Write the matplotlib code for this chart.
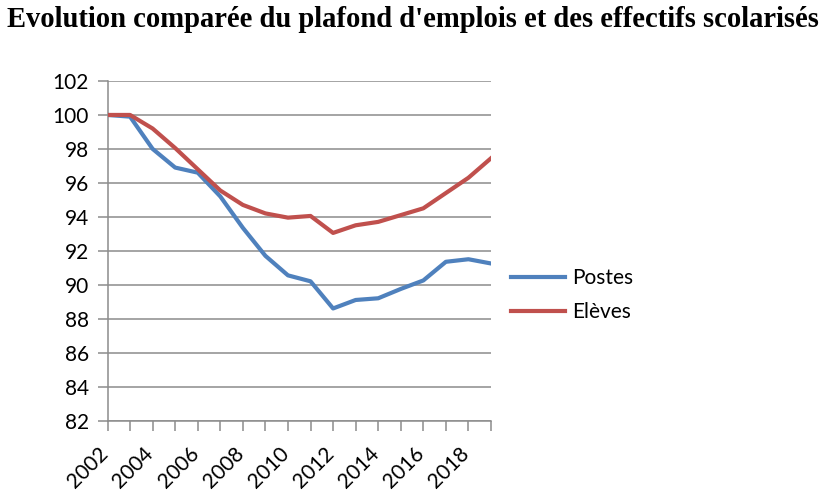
import matplotlib
matplotlib.use("Agg")
import matplotlib.pyplot as plt
import matplotlib.transforms as mtransforms

years = list(range(2002, 2020))
postes = [100.0, 99.9, 98.0, 96.9, 96.6, 95.2, 93.35, 91.7, 90.55, 90.2,
          88.6, 89.1, 89.2, 89.75, 90.25, 91.35, 91.5, 91.25]
eleves = [100.0, 100.0, 99.2, 98.05, 96.8, 95.55, 94.7, 94.2, 93.95, 94.05,
          93.05, 93.5, 93.7, 94.1, 94.5, 95.4, 96.3, 97.45]
yticks = list(range(82, 103, 2))
xlabels = [str(y) for y in range(2002, 2020, 2)]
title = "Evolution comparée du plafond d'emplois et des effectifs scolarisés"

W, H = 825, 499
fig = plt.figure(figsize=(W / 100, H / 100), dpi=100)
L, R, T, B = 107.5, 491, 81, 420.5
ax = fig.add_axes([L / W, 1 - B / H, (R - L) / W, (B - T) / H])

grid_c = "#8c8c8c"
blue = "#4F81BD"
red = "#C0504D"
font = "Lato"
fs = 15

ax.plot(years, postes, color=blue, lw=3.0, label="Postes", solid_joinstyle="round", zorder=3)
ax.plot(years, eleves, color=red, lw=3.0, label="Elèves", solid_joinstyle="round", zorder=3)

ax.set_xlim(2002, 2019)
ax.set_ylim(82, 102)
ax.set_yticks(yticks)
ax.set_yticklabels([str(v) for v in yticks], fontsize=fs, family=font)
ax.yaxis.grid(True, color=grid_c, lw=1.1)
ax.set_axisbelow(True)

ax.set_xticks(years)
ax.set_xticklabels([str(y) if str(y) in xlabels else "" for y in years],
                   fontsize=fs, family=font, rotation=45, ha="right")

for s in ["top", "right"]:
    ax.spines[s].set_visible(False)
for s in ["left", "bottom"]:
    ax.spines[s].set_color(grid_c)
    ax.spines[s].set_linewidth(1.1)
ax.tick_params(axis="both", direction="out", length=7, width=1.1, color=grid_c,
               labelcolor="black")
ax.tick_params(axis="y", pad=6.5)
ax.tick_params(axis="x", pad=3.5)

offset = mtransforms.ScaledTranslation(5 / 100, -8 / 100, fig.dpi_scale_trans)
for lab in ax.get_xticklabels():
    lab.set_transform(lab.get_transform() + offset)

leg = fig.legend(loc="upper left", bbox_to_anchor=(511 / W, 1 - 268 / H),
                 frameon=False, prop={"family": font, "size": fs},
                 handlelength=2.6, handletextpad=0.35, labelspacing=0.68,
                 borderaxespad=0, borderpad=0)

fig.text(0.5, 1 - 27 / H, title, ha="center", va="baseline",
         family="Liberation Serif", weight="bold", fontsize=20.6)

fig.savefig("out.png", dpi=100)
